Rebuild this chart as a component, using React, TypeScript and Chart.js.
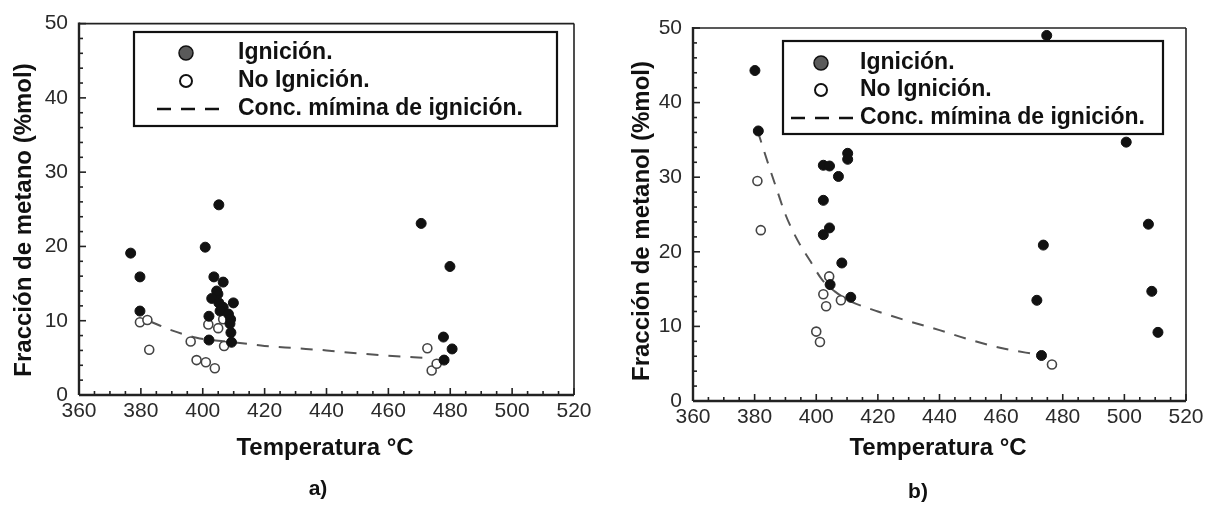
import React, { useEffect, useRef } from "react";
import { Chart, registerables } from "chart.js";

Chart.register(...registerables);

const FONT = "'Liberation Sans', Arial, Helvetica, sans-serif";

// ---- tick labels & texts ----
const xTicks = [360, 380, 400, 420, 440, 460, 480, 500, 520];
const yTicks = [0, 10, 20, 30, 40, 50];
const legendLabels = ["Ignición.", "No Ignición.", "Conc. mímina de ignición."];
const xAxisTitle = "Temperatura °C";
const yTitleA = "Fracción de metano (%mol)";
const yTitleB = "Fracción de metanol (%mol)";

// ---- (a) metano ----
const ignTempA = [376.7, 379.7, 379.7, 405.2, 400.8, 403.6, 406.6, 404.9, 404.5, 402.9, 405.2, 409.9, 406.6, 405.6, 408.3, 402.0, 409.0, 408.8, 409.1, 409.3, 402.0, 470.6, 479.9, 477.8, 480.6, 478.0];
const ignConcA = [19.1, 15.9, 11.3, 25.6, 19.9, 15.9, 15.2, 13.6, 14.0, 13.0, 12.4, 12.4, 11.8, 11.3, 10.9, 10.6, 10.2, 9.6, 8.4, 7.1, 7.4, 23.1, 17.3, 7.8, 6.2, 4.7];
const noIgnTempA = [379.7, 382.1, 382.7, 396.1, 398.0, 401.0, 403.9, 401.8, 405.0, 406.6, 406.9, 472.6, 474.0, 475.6];
const noIgnConcA = [9.8, 10.1, 6.1, 7.2, 4.7, 4.4, 3.6, 9.5, 9.0, 10.2, 6.6, 6.3, 3.3, 4.2];
const minTempA = [383, 390, 398, 405, 412, 420, 430, 440, 450, 460, 472];
const minConcA = [9.9, 8.7, 7.7, 7.3, 7.0, 6.6, 6.3, 6.0, 5.6, 5.3, 5.0];

// ---- (b) metanol ----
const ignTempB = [380.1, 381.2, 402.3, 404.3, 410.2, 410.2, 407.2, 402.3, 402.3, 404.3, 408.3, 404.5, 411.2, 474.8, 500.6, 507.8, 473.7, 471.6, 508.9, 510.9, 473.1];
const ignConcB = [44.3, 36.2, 31.6, 31.5, 33.2, 32.4, 30.1, 26.9, 22.3, 23.2, 18.5, 15.6, 13.9, 49.0, 34.7, 23.7, 20.9, 13.5, 14.7, 9.2, 6.1];
const noIgnTempB = [380.9, 382.0, 404.2, 402.3, 403.2, 408.0, 400.0, 401.2, 476.5];
const noIgnConcB = [29.5, 22.9, 16.7, 14.3, 12.7, 13.5, 9.3, 7.9, 4.9];
const minTempB = [381, 384, 387, 390, 394, 398, 402, 406, 411, 420, 430, 440, 450, 460, 472];
const minConcB = [36.2, 32.3, 28.6, 25.0, 21.5, 18.8, 16.2, 14.7, 13.4, 12.0, 10.7, 9.5, 8.2, 7.1, 6.2];

const toPts = (xs: number[], ys: number[]) => xs.map((x, i) => ({ x, y: ys[i] }));

type PanelCfg = {
  left: number;
  width: number;
  height: number;
  plot: { left: number; top: number; right: number; bottom: number };
  ign: { x: number; y: number }[];
  noIgn: { x: number; y: number }[];
  minLine: { x: number; y: number }[];
  yTitle: string;
  yTitlePos: [number, number];
  xTitlePos: [number, number];
  legendBox: { x: number; y: number; w: number; h: number };
  legendMarkerX: number;
  legendTextX: number;
  legendRows: number[];
  legendDash: [number, number];
  caption: string;
  captionPos: [number, number];
  pointR: number;
};

function makeDecor(cfg: PanelCfg) {
  return {
    id: "decor",
    beforeDatasetsDraw(chart: any) {
      const { ctx, chartArea: a, scales } = chart;
      const x = scales.x;
      const y = scales.y;
      ctx.save();
      ctx.strokeStyle = "#222";
      ctx.lineWidth = 1.6;
      const seg = (x1: number, y1: number, x2: number, y2: number) => {
        ctx.beginPath();
        ctx.moveTo(x1, y1);
        ctx.lineTo(x2, y2);
        ctx.stroke();
      };
      for (let v = 0; v <= 50; v += 2) {
        const py = y.getPixelForValue(v);
        seg(a.left, py, a.left + (v % 10 === 0 ? 7 : 4), py);
      }
      for (let v = 360; v <= 520; v += 5) {
        const px = x.getPixelForValue(v);
        seg(px, a.bottom, px, a.bottom - (v % 20 === 0 ? 7 : 4));
      }
      ctx.lineWidth = 1.6;
      seg(a.left, a.top, a.right, a.top);
      seg(a.right, a.top, a.right, a.bottom);
      ctx.lineWidth = 2.4;
      seg(a.left, a.top - 1, a.left, a.bottom);
      seg(a.left, a.bottom, a.right, a.bottom);
      ctx.restore();
    },
    afterDraw(chart: any) {
      const { ctx } = chart;
      ctx.save();
      // legend box
      const b = cfg.legendBox;
      ctx.fillStyle = "#fff";
      ctx.fillRect(b.x, b.y, b.w, b.h);
      ctx.strokeStyle = "#111";
      ctx.lineWidth = 2.2;
      ctx.strokeRect(b.x, b.y, b.w, b.h);
      const [r1, r2, r3] = cfg.legendRows;
      ctx.beginPath();
      ctx.arc(cfg.legendMarkerX, r1, 7, 0, Math.PI * 2);
      ctx.fillStyle = "#5a5a5a";
      ctx.fill();
      ctx.lineWidth = 1.5;
      ctx.strokeStyle = "#111";
      ctx.stroke();
      ctx.beginPath();
      ctx.arc(cfg.legendMarkerX, r2, 6, 0, Math.PI * 2);
      ctx.fillStyle = "#fff";
      ctx.fill();
      ctx.lineWidth = 2;
      ctx.stroke();
      ctx.beginPath();
      ctx.setLineDash([14, 10]);
      ctx.lineWidth = 2.5;
      ctx.moveTo(cfg.legendDash[0], r3);
      ctx.lineTo(cfg.legendDash[1], r3);
      ctx.stroke();
      ctx.setLineDash([]);
      ctx.fillStyle = "#111";
      ctx.font = `bold 23px ${FONT}`;
      ctx.textBaseline = "middle";
      ctx.textAlign = "left";
      legendLabels.forEach((t, i) => ctx.fillText(t, cfg.legendTextX, cfg.legendRows[i]));
      // axis titles
      ctx.font = `bold 24px ${FONT}`;
      ctx.textAlign = "center";
      ctx.fillText(xAxisTitle, cfg.xTitlePos[0], cfg.xTitlePos[1]);
      ctx.save();
      ctx.translate(cfg.yTitlePos[0], cfg.yTitlePos[1]);
      ctx.rotate(-Math.PI / 2);
      ctx.fillText(cfg.yTitle, 0, 0);
      ctx.restore();
      // caption
      ctx.font = `bold 21px ${FONT}`;
      ctx.fillText(cfg.caption, cfg.captionPos[0], cfg.captionPos[1]);
      ctx.restore();
    },
  };
}

function Panel({ cfg }: { cfg: PanelCfg }) {
  const ref = useRef<HTMLCanvasElement | null>(null);
  useEffect(() => {
    if (!ref.current) return;
    const p = cfg.plot;
    const xAxisH = 40;
    const chart = new Chart(ref.current, {
      type: "scatter",
      data: {
        datasets: [
          {
            label: legendLabels[0],
            data: cfg.ign,
            pointRadius: cfg.pointR,
            pointBackgroundColor: "#111",
            pointBorderColor: "#111",
            pointBorderWidth: 1,
            order: 1,
          },
          {
            label: legendLabels[1],
            data: cfg.noIgn,
            pointRadius: cfg.pointR - 0.5,
            pointBackgroundColor: "#fff",
            pointBorderColor: "#444",
            pointBorderWidth: 1.6,
            order: 2,
          },
          {
            label: legendLabels[2],
            data: cfg.minLine,
            showLine: true,
            pointRadius: 0,
            borderColor: "#555",
            borderWidth: 2,
            borderDash: [12, 10],
            cubicInterpolationMode: "monotone",
            order: 3,
          } as any,
        ],
      },
      options: {
        animation: false,
        responsive: false,
        maintainAspectRatio: false,
        layout: {
          padding: {
            left: 0,
            top: p.top,
            right: cfg.width - p.right,
            bottom: cfg.height - p.bottom - xAxisH,
          },
        },
        plugins: {
          legend: { display: false },
          tooltip: { enabled: false },
        },
        scales: {
          x: {
            type: "linear",
            min: 360,
            max: 520,
            afterBuildTicks: (s: any) => {
              s.ticks = xTicks.map((v) => ({ value: v }));
            },
            afterFit: (s: any) => {
              s.height = xAxisH;
            },
            grid: { display: false, drawTicks: false },
            border: { display: false },
            ticks: {
              color: "#2a2a2a",
              font: { size: 21, family: FONT },
              padding: 4,
              maxRotation: 0,
              autoSkip: false,
            },
          },
          y: {
            type: "linear",
            min: 0,
            max: 50,
            afterBuildTicks: (s: any) => {
              s.ticks = yTicks.map((v) => ({ value: v }));
            },
            afterFit: (s: any) => {
              s.width = p.left;
            },
            grid: { display: false, drawTicks: false },
            border: { display: false },
            ticks: {
              color: "#2a2a2a",
              font: { size: 21, family: FONT },
              padding: 11,
              autoSkip: false,
            },
          },
        },
      },
      plugins: [makeDecor(cfg)],
    });
    return () => chart.destroy();
  }, [cfg]);
  return (
    <canvas
      ref={ref}
      width={cfg.width}
      height={cfg.height}
      style={{ position: "absolute", left: cfg.left, top: 0, width: cfg.width, height: cfg.height }}
    />
  );
}

const cfgA: PanelCfg = {
  left: 0,
  width: 607,
  height: 531,
  plot: { left: 79, top: 20, right: 574, bottom: 395 },
  ign: toPts(ignTempA, ignConcA),
  noIgn: toPts(noIgnTempA, noIgnConcA),
  minLine: toPts(minTempA, minConcA),
  yTitle: yTitleA,
  yTitlePos: [24, 220],
  xTitlePos: [325, 448],
  legendBox: { x: 134, y: 32, w: 423, h: 94 },
  legendMarkerX: 186,
  legendTextX: 238,
  legendRows: [53, 81, 109],
  legendDash: [157, 219],
  caption: "a)",
  captionPos: [318, 489],
  pointR: 5,
};

const cfgB: PanelCfg = {
  left: 607,
  width: 607,
  height: 531,
  plot: { left: 86, top: 28, right: 579, bottom: 401 },
  ign: toPts(ignTempB, ignConcB),
  noIgn: toPts(noIgnTempB, noIgnConcB),
  minLine: toPts(minTempB, minConcB),
  yTitle: yTitleB,
  yTitlePos: [35, 221],
  xTitlePos: [331, 448],
  legendBox: { x: 176, y: 41, w: 380, h: 93 },
  legendMarkerX: 214,
  legendTextX: 253,
  legendRows: [63, 90, 118],
  legendDash: [184, 248],
  caption: "b)",
  captionPos: [311, 492],
  pointR: 5,
};

export default function App() {
  return (
    <div style={{ position: "absolute", left: 0, top: 0, width: 1214, height: 531, background: "#fff" }}>
      <Panel cfg={cfgA} />
      <Panel cfg={cfgB} />
    </div>
  );
}
